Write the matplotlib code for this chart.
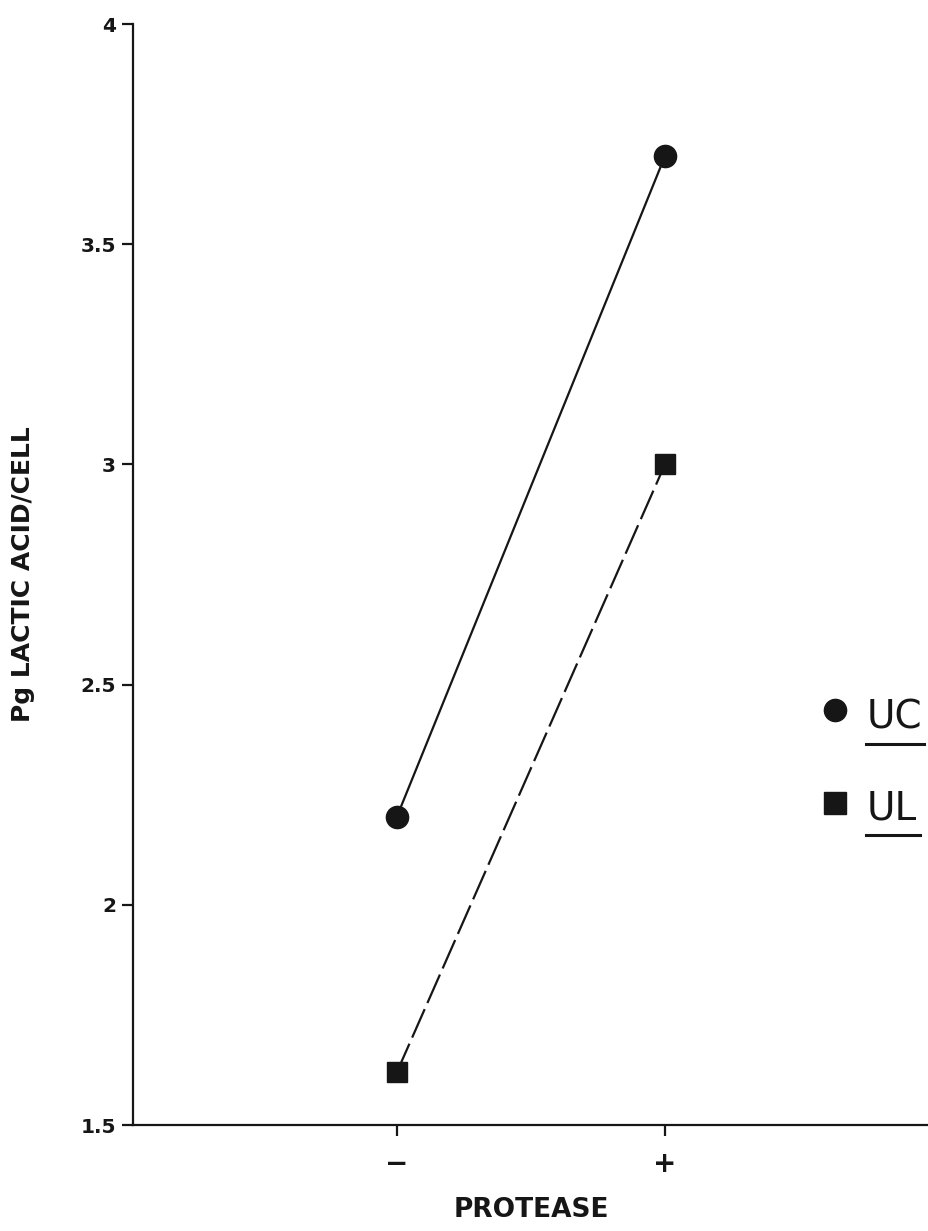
import numpy as np
import matplotlib
matplotlib.use("Agg")
import matplotlib.pyplot as plt
from matplotlib.lines import Line2D

# protease treatment: without / with
protease = ["\u2212", "+"]
uc_lactic = [2.2, 3.7]
ul_lactic = [1.62, 3.0]
y_ticks = [1.5, 2, 2.5, 3, 3.5, 4]
y_ticklabels = ["1.5", "2", "2.5", "3", "3.5", "4"]

ink = "#161616"

fig = plt.figure(figsize=(9.29, 12.31), dpi=100)
ax = fig.add_axes([0.143, 0.0861, 0.857, 0.8944])

x = np.arange(len(protease))
ax.plot(x, uc_lactic, color=ink, linewidth=1.6, marker="o", markersize=16,
        zorder=3)
ax.plot(x, ul_lactic, color=ink, linewidth=1.6, marker="s", markersize=15,
        dashes=(14, 3), zorder=3)

ax.set_xlim(-0.985, 1.985)
ax.set_ylim(1.5, 4)
ax.set_xticks(x)
ax.set_xticklabels(protease, fontsize=20, fontweight="bold")
ax.set_yticks(y_ticks)
ax.set_yticklabels(y_ticklabels, fontsize=14.5, fontweight="bold")

for side in ["top", "right"]:
    ax.spines[side].set_visible(False)
for side in ["left", "bottom"]:
    ax.spines[side].set_linewidth(1.6)
    ax.spines[side].set_color(ink)
ax.tick_params(axis="both", direction="out", length=8, width=1.6, colors=ink)
ax.tick_params(axis="y", pad=4)
ax.tick_params(axis="x", pad=10)

ax.set_xlabel("PROTEASE", fontsize=19, fontweight="bold", color=ink, labelpad=14)
ax.set_ylabel("Pg LACTIC ACID/CELL", fontsize=18, fontweight="bold", color=ink)
ax.yaxis.set_label_coords(-0.123, 0.5)

# key on the right, drawn in figure coordinates
key = [("o", "UC", 0.423, 0.4086, 0.3956, 0.995),
       ("s", "UL", 0.348, 0.3339, 0.3217, 0.990)]
for mk, name, ym, yt, yu, xend in key:
    fig.add_artist(Line2D([0.899], [ym], marker=mk, markersize=16,
                          color=ink, linestyle="none",
                          transform=fig.transFigure))
    fig.text(0.933, yt, name, fontsize=28, color=ink, ha="left",
             va="baseline")
    fig.add_artist(Line2D([0.932, xend], [yu, yu], color=ink, linewidth=2.2,
                          transform=fig.transFigure))

fig.savefig("out.png", dpi=100, facecolor="white")
